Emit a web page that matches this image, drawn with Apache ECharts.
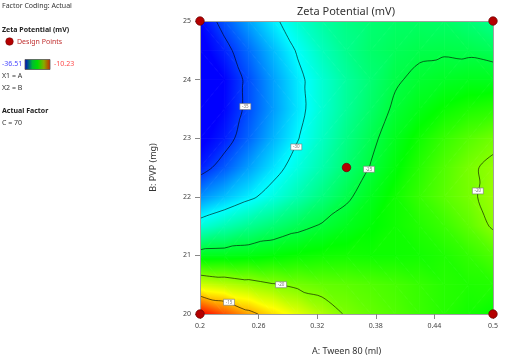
<!DOCTYPE html>
<html><head><meta charset="utf-8">
<script src="https://cdn.jsdelivr.net/npm/echarts@6/dist/echarts.min.js"></script>
<style>html,body{margin:0;padding:0;background:#fff}#c{width:518px;height:364px}</style>
</head><body><div id="c"></div>
<script>
// ---- data ----
const tweenValues = [0.2,0.225,0.25,0.275,0.3,0.325,0.35,0.375,0.4,0.425,0.45,0.475,0.5];
const pvpValues = [20,20.5,21,21.5,22,22.5,23,23.5,24,24.5,25];
// zeta potential (mV); one row per PVP value (bottom to top), one column per Tween value
const zetaRow20   = [-10.23,-12.3,-14.4,-16.0,-17.5,-18.9,-20.2,-20.8,-21.3,-21.9,-22.4,-22.9,-23.3];
const zetaRow20_5 = [-18.0,-18.6,-19.2,-19.85,-20.4,-20.8,-21.0,-21.3,-21.6,-22.0,-22.4,-22.6,-22.5];
const zetaRow21   = [-24.1,-24.0,-23.8,-23.5,-23.2,-23.0,-22.9,-23.0,-23.0,-22.9,-22.6,-22.1,-21.4];
const zetaRow21_5 = [-29.0,-28.0,-27.1,-26.3,-25.5,-24.8,-24.1,-23.5,-23.0,-22.5,-21.9,-21.0,-19.8];
const zetaRow22   = [-32.8,-31.6,-30.4,-29.2,-27.9,-26.6,-25.3,-24.1,-23.0,-22.0,-21.1,-20.35,-19.4];
const zetaRow22_5 = [-35.8,-34.2,-32.4,-30.7,-29.2,-27.8,-26.3,-24.9,-23.6,-22.4,-21.3,-20.3,-19.6];
const zetaRow23   = [-36.9,-35.8,-33.9,-31.9,-30.1,-28.4,-26.8,-25.4,-24.1,-23.0,-22.0,-21.2,-20.5];
const zetaRow23_5 = [-37.3,-36.4,-34.5,-32.5,-30.6,-28.8,-27.3,-26.0,-24.7,-23.9,-23.2,-22.7,-22.4];
const zetaRow24   = [-37.3,-36.5,-34.5,-32.4,-30.5,-28.8,-27.4,-26.3,-25.2,-24.6,-24.3,-24.1,-24.1];
const zetaRow24_5 = [-37.0,-35.6,-33.7,-31.7,-29.8,-28.2,-27.0,-26.1,-25.6,-25.3,-25.2,-25.3,-25.6];
const zetaRow25   = [-36.4,-34.3,-32.3,-30.4,-28.8,-27.6,-26.8,-26.3,-26.0,-25.9,-26.0,-26.4,-27.0];
const zetaGrid = [zetaRow20,zetaRow20_5,zetaRow21,zetaRow21_5,zetaRow22,zetaRow22_5,zetaRow23,zetaRow23_5,zetaRow24,zetaRow24_5,zetaRow25];

const contourLevels = [-35,-30,-25,-20,-15];
const labelLevels = [-35,-30,-25,-20,-20,-15];
const labelTween  = [0.2464,0.2986,0.373,0.4845,0.283,0.2297];
const labelPvp    = [23.54,22.85,22.47,22.1,20.5,20.2];

const designTween = [0.2,0.2,0.5,0.5,0.35];
const designPvp   = [20,25,20,25,22.5];

const xTicks = [0.2,0.26,0.32,0.38,0.44,0.5];
const yTicks = [20,21,22,23,24,25];
const colorMin = -36.51, colorMax = -10.23;
const rampColors = ['#0000ff','#00ffff','#00ff00','#ffff00','#ff0000'];

// ---- helpers ----
const rampStops = rampColors.map((c,k)=>({offset:k/(rampColors.length-1), color:c}));
function clamp01(t){return Math.max(0,Math.min(1,t));}
function triangleEl(P, V){
  const p1=P[0],p2=P[1],p3=P[2];
  const d2x=p2[0]-p1[0], d2y=p2[1]-p1[1], d3x=p3[0]-p1[0], d3y=p3[1]-p1[1];
  const det=d2x*d3y-d2y*d3x;
  const a=V[1]-V[0], b=V[2]-V[0];
  const gx=(a*d3y-b*d2y)/det, gy=(d2x*b-d3x*a)/det;
  const g2=gx*gx+gy*gy;
  let fill;
  if (!isFinite(g2) || g2<1e-10) {
    fill = echarts.color.lerp(clamp01((V[0]-colorMin)/(colorMax-colorMin)), rampColors);
  } else {
    const s=(colorMin-V[0])/g2, e=(colorMax-V[0])/g2;
    fill = new echarts.graphic.LinearGradient(p1[0]+gx*s, p1[1]+gy*s, p1[0]+gx*e, p1[1]+gy*e, rampStops, true);
  }
  return {type:'polygon', shape:{points:P}, style:{fill:fill, stroke:fill, lineWidth:0.8}};
}
const nx = tweenValues.length, ny = pvpValues.length;
const cells = [];
for (let j=0;j<ny-1;j++) for (let i=0;i<nx-1;i++) cells.push([tweenValues[i], pvpValues[j], i, j]);
function zAt(v){return zetaGrid[v[1]][v[0]];}
function cellTris(i,j){
  const a=[i,j], b=[i+1,j], c=[i+1,j+1], d=[i,j+1];
  if (Math.abs(zAt(a)-zAt(c)) <= Math.abs(zAt(b)-zAt(d))) return [[a,b,c],[a,c,d]];
  return [[a,b,d],[b,c,d]];
}
function buildContours(level){
  const pts={}, adj={};
  const key=(a,b)=>{const ka=a[0]+','+a[1], kb=b[0]+','+b[1]; return ka<kb? ka+'|'+kb : kb+'|'+ka;};
  function cross(a,b){
    const va=zAt(a), vb=zAt(b);
    if ((va>level)===(vb>level)) return null;
    const t=(level-va)/(vb-va), k=key(a,b);
    pts[k]=[tweenValues[a[0]]+t*(tweenValues[b[0]]-tweenValues[a[0]]), pvpValues[a[1]]+t*(pvpValues[b[1]]-pvpValues[a[1]])];
    return k;
  }
  for (let j=0;j<ny-1;j++) for (let i=0;i<nx-1;i++) {
    cellTris(i,j).forEach(tr=>{
      const ks=[cross(tr[0],tr[1]),cross(tr[1],tr[2]),cross(tr[2],tr[0])].filter(Boolean);
      if (ks.length===2){ (adj[ks[0]]=adj[ks[0]]||[]).push(ks[1]); (adj[ks[1]]=adj[ks[1]]||[]).push(ks[0]); }
    });
  }
  const keys=Object.keys(adj), visited=new Set(), lines=[];
  const starts=keys.filter(k=>adj[k].length===1).concat(keys);
  starts.forEach(s=>{
    if (visited.has(s)) return;
    const path=[s]; visited.add(s); let cur=s;
    while(true){ const nxt=adj[cur].find(n=>!visited.has(n)); if(!nxt) break; path.push(nxt); visited.add(nxt); cur=nxt; }
    if (path.length>2 && adj[cur].includes(s)) path.push(s);
    lines.push(path.map(k=>pts[k]));
  });
  return lines;
}
const contourLines=[];
contourLevels.forEach(lv=>buildContours(lv).forEach(l=>contourLines.push(l)));

const FONT = 'Noto Sans';
const chart = echarts.init(document.getElementById('c'), null, {renderer:'canvas'});
chart.setOption({
  animation:false,
  backgroundColor:'#ffffff',
  grid:{left:200, top:21, width:293, height:293},
  xAxis:[{
    type:'value', min:0.2, max:0.5, z:3,
    name:'A: Tween 80 (ml)', nameLocation:'middle', nameGap:33,
    nameTextStyle:{fontFamily:FONT, fontSize:9, color:'#333'},
    axisLine:{show:true, lineStyle:{color:'#a0a0a0', width:1}},
    axisTick:{show:true, length:5, customValues:xTicks, lineStyle:{color:'#888'}},
    axisLabel:{customValues:xTicks, fontFamily:FONT, fontSize:7, color:'#444', margin:8},
    splitLine:{show:false}
  },{
    type:'value', min:0.2, max:0.5, position:'top', z:3,
    axisLine:{show:true, lineStyle:{color:'#a0a0a0', width:1}},
    axisTick:{show:false}, axisLabel:{show:false}, splitLine:{show:false}
  }],
  yAxis:[{
    type:'value', min:20, max:25, interval:1, z:3,
    name:'B: PVP (mg)', nameLocation:'middle', nameGap:42,
    nameTextStyle:{fontFamily:FONT, fontSize:9, color:'#333'},
    axisLine:{show:true, lineStyle:{color:'#a0a0a0', width:1}},
    axisTick:{show:true, length:5, lineStyle:{color:'#888'}},
    axisLabel:{fontFamily:FONT, fontSize:7, color:'#444', margin:9},
    splitLine:{show:false}
  },{
    type:'value', min:20, max:25, position:'right', z:3,
    axisLine:{show:true, lineStyle:{color:'#a0a0a0', width:1}},
    axisTick:{show:false}, axisLabel:{show:false}, splitLine:{show:false}
  }],
  series:[{
    type:'custom', z:1, clip:true,
    data:cells,
    renderItem:function(params, api){
      const i=api.value(2), j=api.value(3);
      const children = cellTris(i,j).map(tr=>{
        const P=tr.map(v=>api.coord([tweenValues[v[0]], pvpValues[v[1]]]));
        const V=tr.map(v=>zAt(v));
        return triangleEl(P,V);
      });
      return {type:'group', children:children};
    }
  },{
    type:'custom', z:2, clip:true, silent:true,
    data:contourLines.map((l,k)=>[l[0][0], l[0][1], k]),
    renderItem:function(params, api){
      const line=contourLines[api.value(2)];
      return {type:'polyline', shape:{points:line.map(p=>api.coord(p)), smooth:0.35},
        style:{stroke:'rgba(0,0,0,0.6)', lineWidth:1, fill:null}};
    }
  },{
    type:'custom', z:4, clip:false,
    data:labelLevels.map((lv,k)=>[labelTween[k], labelPvp[k], lv]),
    renderItem:function(params, api){
      const c=api.coord([api.value(0), api.value(1)]);
      const lv=api.value(2);
      return {type:'group', children:[
        {type:'rect', shape:{x:c[0]-5.5, y:c[1]-3, width:11, height:6}, style:{fill:'#ffffff', stroke:'#777', lineWidth:0.6}},
        {type:'text', x:c[0], y:c[1], style:{text:String(lv), fill:'#777', font:'4.5px '+FONT, align:'center', verticalAlign:'middle'}}
      ]};
    }
  },{
    type:'scatter', z:6, symbol:'circle', symbolSize:8.5,
    data:designTween.map((x,k)=>[x, designPvp[k]]),
    itemStyle:{color:'#b40000', borderColor:'#6a0000', borderWidth:0.7, opacity:1}
  }],
  graphic:[
    {type:'text', x:346, y:12, style:{text:'Zeta Potential (mV)', font:'11px '+FONT, fill:'#333', align:'center', verticalAlign:'middle'}},
    {type:'text', x:2, y:6, style:{text:'Factor Coding: Actual', font:'7px '+FONT, fill:'#333', verticalAlign:'middle'}},
    {type:'text', x:2, y:30, style:{text:'Zeta Potential (mV)', font:'bold 7px '+FONT, fill:'#222', verticalAlign:'middle'}},
    {type:'circle', shape:{cx:9.5, cy:41.5, r:3.8}, style:{fill:'#b40000', stroke:'#6a0000', lineWidth:0.5}},
    {type:'text', x:17, y:42, style:{text:'Design Points', font:'7px '+FONT, fill:'#c03030', verticalAlign:'middle'}},
    {type:'text', x:2, y:64, style:{text:String(colorMin), font:'7px '+FONT, fill:'#4848ff', verticalAlign:'middle'}},
    {type:'rect', shape:{x:25, y:59.5, width:25, height:10}, style:{fill:new echarts.graphic.LinearGradient(0,0,1,0,[{offset:0,color:'#0000cc'},{offset:0.3,color:'#00bb33'},{offset:0.5,color:'#00dd00'},{offset:0.75,color:'#88aa00'},{offset:1,color:'#cc2200'}]), stroke:'#555', lineWidth:0.8}},
    {type:'text', x:54, y:64, style:{text:String(colorMax), font:'7px '+FONT, fill:'#ff4848', verticalAlign:'middle'}},
    {type:'text', x:2, y:76, style:{text:'X1 = A', font:'7px '+FONT, fill:'#333', verticalAlign:'middle'}},
    {type:'text', x:2, y:88, style:{text:'X2 = B', font:'7px '+FONT, fill:'#333', verticalAlign:'middle'}},
    {type:'text', x:2, y:111, style:{text:'Actual Factor', font:'bold 7px '+FONT, fill:'#222', verticalAlign:'middle'}},
    {type:'text', x:2, y:123, style:{text:'C = 70', font:'7px '+FONT, fill:'#333', verticalAlign:'middle'}}
  ]
});
</script></body></html>
